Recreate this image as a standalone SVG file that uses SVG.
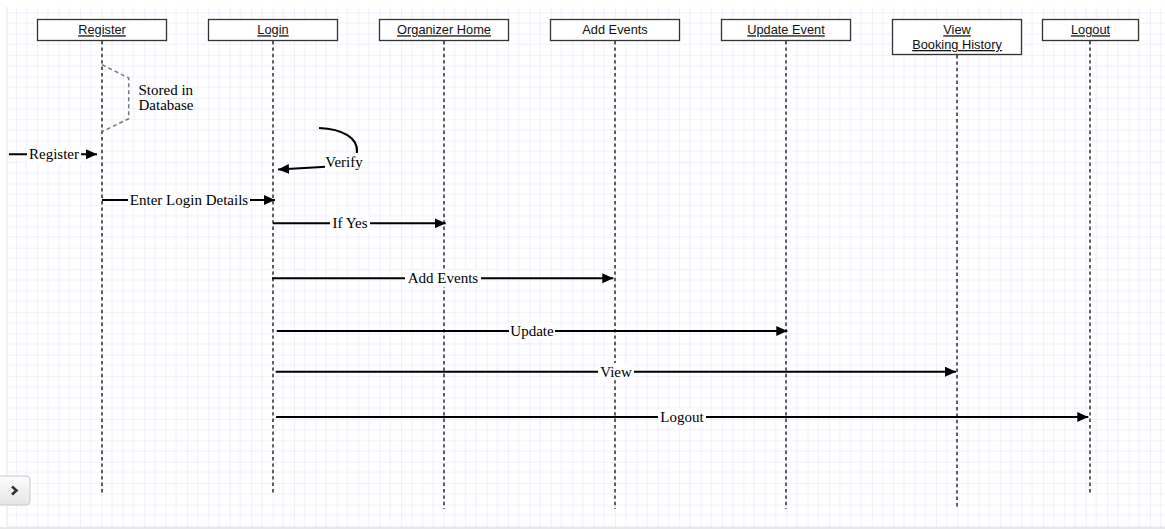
<svg xmlns="http://www.w3.org/2000/svg" width="1165" height="529" viewBox="0 0 1165 529">
<style>
.box{fill:#fff;stroke:#333;stroke-width:1.3}
.bt{font-family:"Liberation Sans",Arial,sans-serif;font-size:12.8px;fill:#111;text-anchor:middle}
.u{text-decoration:underline}
.life{stroke:#3a3a3a;stroke-width:1.6;stroke-dasharray:3.4 3;fill:none}
.msg{stroke:#000;stroke-width:2.1;fill:none}
.lbl{font-family:"Liberation Serif","Times New Roman",serif;font-size:15px;fill:#000}
.mid{text-anchor:middle}
.bg{fill:#fff}
</style>
<defs>
<pattern id="grid" patternUnits="userSpaceOnUse" x="15.8" y="12.3" width="21.4" height="21.4">
<rect width="21.4" height="21.4" fill="#fff"/>
<path d="M10.7,0V21.4M0,10.7H21.4" stroke="#f0effc" stroke-width="1"/>
<path d="M0,0V21.4M0,0H21.4" stroke="#e5e3fa" stroke-width="1"/>
</pattern>
<marker id="arr" markerUnits="userSpaceOnUse" markerWidth="13" markerHeight="11" refX="11" refY="5" orient="auto">
<path d="M0,0L11,5L0,10z" fill="#000"/>
</marker>
<linearGradient id="btn" x1="0" y1="0" x2="0" y2="1">
<stop offset="0" stop-color="#fcfcfc"/>
<stop offset="1" stop-color="#e6e6e6"/>
</linearGradient>
</defs>
<rect width="1165" height="529" fill="#fff"/>
<rect x="7" y="7" width="1158" height="520" fill="url(#grid)"/>
<line x1="7" y1="7" x2="7" y2="527" stroke="#e4e4e4"/>
<rect x="0" y="527" width="1165" height="2" fill="#e8e8e8"/>

<g id="lifelines">
<line class="life" x1="102" y1="41" x2="102" y2="494"/>
<line class="life" x1="273" y1="41" x2="273" y2="494"/>
<line class="life" x1="444" y1="41" x2="444" y2="509"/>
<line class="life" x1="615" y1="41" x2="615" y2="509"/>
<line class="life" x1="786" y1="41" x2="786" y2="509"/>
<line class="life" x1="957" y1="55" x2="957" y2="509"/>
<line class="life" x1="1090" y1="41" x2="1090" y2="494"/>
</g>

<g id="node-register"><rect class="box" x="37.5" y="19.5" width="129" height="21"/><text class="bt u" x="102" y="34.3">Register</text></g>
<g id="node-login"><rect class="box" x="208.5" y="19.5" width="129" height="21"/><text class="bt u" x="273" y="34.3">Login</text></g>
<g id="node-organizer-home"><rect class="box" x="379.5" y="19.5" width="129" height="21"/><text class="bt u" x="444" y="34.3">Organizer Home</text></g>
<g id="node-add-events"><rect class="box" x="550.5" y="19.5" width="129" height="21"/><text class="bt" x="615" y="34.3">Add Events</text></g>
<g id="node-update-event"><rect class="box" x="721.5" y="19.5" width="129" height="21"/><text class="bt u" x="786" y="34.3">Update Event</text></g>
<g id="node-view-booking-history"><rect class="box" x="892.5" y="19.5" width="129" height="35"/><text class="bt u" x="957" y="34.3">View</text><text class="bt u" x="957" y="49">Booking History</text></g>
<g id="node-logout"><rect class="box" x="1042.5" y="19.5" width="96" height="21"/><text class="bt u" x="1090.5" y="34.3">Logout</text></g>

<g id="connectors">
<g id="stored">
<polyline points="102,64.7 128.7,78 128.7,118.7 102,131.7" fill="none" stroke="#777" stroke-width="1.5" stroke-dasharray="4 3"/>
<text class="lbl" x="138.5" y="95">Stored in</text>
<text class="lbl" x="138.5" y="110">Database</text>
</g>
<g id="msg-register">
<line class="msg" x1="9" y1="154.3" x2="97" y2="154.3" marker-end="url(#arr)"/>
<rect class="bg" x="27" y="146" width="54" height="17"/>
<text class="lbl mid" x="54" y="159.3">Register</text>
</g>
<g id="msg-verify">
<path class="msg" d="M319,128 C343,129 358,138 357,152 C356,164 340,166 322,167 L278,169.5" marker-end="url(#arr)"/>
<rect class="bg" x="325" y="153" width="38" height="17"/>
<text class="lbl mid" x="344" y="167">Verify</text>
</g>
<g id="msg-enter-login">
<line class="msg" x1="102" y1="200" x2="275" y2="200" marker-end="url(#arr)"/>
<rect class="bg" x="128" y="191.5" width="122" height="17"/>
<text class="lbl mid" x="189" y="205">Enter Login Details</text>
</g>
<g id="msg-if-yes">
<line class="msg" x1="273" y1="223.3" x2="445.7" y2="223.3" marker-end="url(#arr)"/>
<rect class="bg" x="330" y="215" width="40" height="17"/>
<text class="lbl mid" x="350" y="228.3">If Yes</text>
</g>
<g id="msg-add-events">
<line class="msg" x1="272" y1="278.3" x2="613.3" y2="278.3" marker-end="url(#arr)"/>
<rect class="bg" x="405" y="270" width="76" height="17"/>
<text class="lbl mid" x="443" y="283.3">Add Events</text>
</g>
<g id="msg-update">
<line class="msg" x1="276.7" y1="331" x2="787.3" y2="331" marker-end="url(#arr)"/>
<rect class="bg" x="509" y="322.5" width="46" height="17"/>
<text class="lbl mid" x="532" y="336">Update</text>
</g>
<g id="msg-view">
<line class="msg" x1="275.7" y1="371.7" x2="956" y2="371.7" marker-end="url(#arr)"/>
<rect class="bg" x="598" y="363" width="36" height="17"/>
<text class="lbl mid" x="616" y="376.7">View</text>
</g>
<g id="msg-logout">
<line class="msg" x1="276" y1="417" x2="1088.3" y2="417" marker-end="url(#arr)"/>
<rect class="bg" x="658" y="408.5" width="48" height="17"/>
<text class="lbl mid" x="682" y="422">Logout</text>
</g>
</g>

<g id="sidebar-toggle">
<rect x="-5" y="476" width="35" height="29" rx="4" fill="url(#btn)" stroke="#c8c8c8"/>
<polyline points="12,486.5 16.5,490.5 12,494.5" fill="none" stroke="#333" stroke-width="2.6"/>
</g>
</svg>
